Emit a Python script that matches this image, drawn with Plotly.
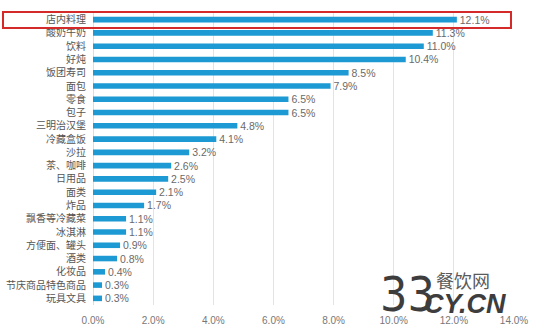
import plotly.graph_objects as go

categories = ["店内料理", "酸奶牛奶", "饮料", "好炖", "饭团寿司", "面包", "零食", "包子",
              "三明治汉堡", "冷藏盒饭", "沙拉", "茶、咖啡", "日用品", "面类", "炸品",
              "飘香等冷藏菜", "冰淇淋", "方便面、罐头", "酒类", "化妆品",
              "节庆商品特色商品", "玩具文具"]
shares = [12.1, 11.3, 11.0, 10.4, 8.5, 7.9, 6.5, 6.5, 4.8, 4.1, 3.2, 2.6, 2.5, 2.1,
          1.7, 1.1, 1.1, 0.9, 0.8, 0.4, 0.3, 0.3]
tick_vals = [0, 2, 4, 6, 8, 10, 12, 14]
tick_text = ["0.0%", "2.0%", "4.0%", "6.0%", "8.0%", "10.0%", "12.0%", "14.0%"]

FONT = "Noto Sans CJK SC, Noto Sans, sans-serif"

fig = go.Figure(go.Bar(
    x=shares, y=categories, orientation="h",
    marker=dict(color="#1d9ad3", line=dict(width=0)),
    width=0.42,
    text=[f"\u00a0{v:.1f}%" for v in shares], textposition="outside",
    constraintext="none",
    textfont=dict(size=10.5, color="#6a6a6a", family="Liberation Sans, Arial, sans-serif"),
    cliponaxis=False,
))

L, R, T, B = 93, 31, 13, 22
W, H = 545, 327
pw, ph = W - L - R, H - T - B

def px(xp):
    return (xp - L) / pw

def py(yp):
    return 1 - (yp - T) / ph

fig.add_shape(type="rect", xref="paper", yref="paper",
              x0=px(3), x1=px(511), y0=py(28), y1=py(12),
              line=dict(color="#d42a2a", width=2), fillcolor="rgba(0,0,0,0)")

# site logo in the lower right corner
fig.add_annotation(xref="paper", yref="paper", x=px(407), y=py(294), text="33",
                   showarrow=False,
                   font=dict(size=48, color="#3d3d3d", family="Liberation Sans Narrow, DejaVu Sans Condensed, Liberation Sans"),
                   xanchor="center", yanchor="middle")
fig.add_annotation(xref="paper", yref="paper", x=px(463), y=py(280), text="餐饮网",
                   showarrow=False, font=dict(size=18, color="#5a5a5a", family=FONT),
                   xanchor="center", yanchor="middle")
fig.add_annotation(xref="paper", yref="paper", x=px(465), y=py(304), text="<b><i>CY.CN</i></b>",
                   showarrow=False,
                   font=dict(size=27, color="#3d3d3d", family="Liberation Sans Narrow, Liberation Sans"),
                   xanchor="center", yanchor="middle")

fig.update_layout(
    width=W, height=H,
    margin=dict(l=L, r=R, t=T, b=B),
    paper_bgcolor="white", plot_bgcolor="white",
    showlegend=False,
    font=dict(family=FONT, color="#555555"),
    xaxis=dict(range=[0, 14], tickvals=tick_vals, ticktext=tick_text,
               showgrid=True, gridcolor="#e3e3e3", gridwidth=1,
               zeroline=True, zerolinecolor="#dddddd", zerolinewidth=1,
               showline=False, ticks="", automargin=False, ticklabelstandoff=8,
               tickfont=dict(size=10, color="#777777", family="Liberation Sans, Arial, sans-serif")),
    yaxis=dict(autorange="reversed", showgrid=False, showline=False, ticks="",
               ticklabelstandoff=6, automargin=False,
               tickfont=dict(size=10, color="#555555")),
    bargap=0.5,
)

fig.write_html("out.html")
